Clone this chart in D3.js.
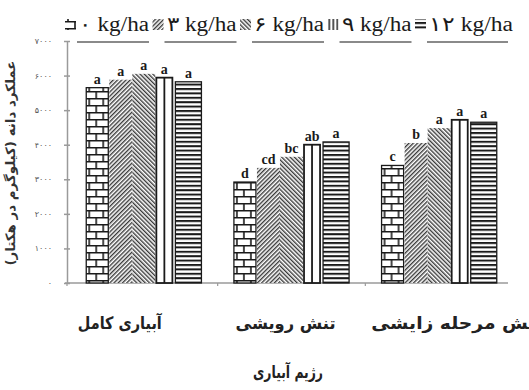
<!DOCTYPE html>
<html>
<head>
<meta charset="utf-8">
<script src="https://cdn.jsdelivr.net/npm/d3@7"></script>
<style>
  body { margin: 0; background: #fff; }
  .axis path, .axis line { stroke: #9a9a9a; stroke-width: 1.5; }
  .axis text { font-family: "DejaVu Sans"; font-size: 8px; fill: #555; }
</style>
</head>
<body>
<div id="chart"></div>
<script>
var width = 529, height = 390;

// data
var categories = ["آبیاری کامل", "تنش رویشی", "تنش مرحله زایشی"];
var series = ["۰ kg/ha", "۳ kg/ha", "۶ kg/ha", "۹ kg/ha", "۱۲ kg/ha"];
var fullIrrigation = [5650, 5880, 6050, 5940, 5820];
var vegetativeStress = [2920, 3330, 3650, 4000, 4080];
var reproductiveStress = [3400, 4050, 4480, 4720, 4650];
var lettersFull = ["a", "a", "a", "a", "a"];
var lettersVeg = ["d", "cd", "bc", "ab", "a"];
var lettersRepro = ["c", "b", "a", "a", "a"];
var yTicks = [0, 1000, 2000, 3000, 4000, 5000, 6000, 7000];
var yTickLabels = ["۰", "۱۰۰۰", "۲۰۰۰", "۳۰۰۰", "۴۰۰۰", "۵۰۰۰", "۶۰۰۰", "۷۰۰۰"];
var yTitle = "عملکرد دانه (کیلوگرم در هکتار)";
var xTitle = "رژیم آبیاری";

var values = [fullIrrigation, vegetativeStress, reproductiveStress];
var letters = [lettersFull, lettersVeg, lettersRepro];

// style per series
var patterns = ["brick", "diagUp", "diagDown", "vert", "horiz"];
var insets = [[0, 1], [0, 0], [0, 0], [1, 6], [-3, 0]];
var labelDx = [-24, -6, 18];
var labelLen = [84, 100, 172];

var svg = d3.select("#chart").append("svg")
  .attr("width", width)
  .attr("height", height);

// patterns
var defs = svg.append("defs");
var p = defs.append("pattern").attr("id", "brick").attr("patternUnits", "userSpaceOnUse")
  .attr("width", 14).attr("height", 14);
p.append("rect").attr("width", 14).attr("height", 14).attr("fill", "#fff");
p.append("path").attr("d", "M0,0.8H14M0,7.8H14M3,0V7.8M10,7.8V14")
  .attr("stroke", "#1a1a1a").attr("stroke-width", 1.6).attr("fill", "none");

p = defs.append("pattern").attr("id", "diagUp").attr("patternUnits", "userSpaceOnUse")
  .attr("width", 3).attr("height", 3).attr("patternTransform", "rotate(45)");
p.append("rect").attr("width", 3).attr("height", 3).attr("fill", "#fff");
p.append("rect").attr("width", 1.4).attr("height", 3).attr("fill", "#3a3a3a");

p = defs.append("pattern").attr("id", "diagDown").attr("patternUnits", "userSpaceOnUse")
  .attr("width", 3).attr("height", 3).attr("patternTransform", "rotate(-45)");
p.append("rect").attr("width", 3).attr("height", 3).attr("fill", "#fff");
p.append("rect").attr("width", 1.4).attr("height", 3).attr("fill", "#3a3a3a");

p = defs.append("pattern").attr("id", "horiz").attr("patternUnits", "userSpaceOnUse")
  .attr("width", 4).attr("height", 4.4);
p.append("rect").attr("width", 4).attr("height", 4.4).attr("fill", "#fff");
p.append("rect").attr("width", 4).attr("height", 2).attr("fill", "#1a1a1a");

p = defs.append("pattern").attr("id", "vert").attr("patternUnits", "userSpaceOnUse")
  .attr("width", 4).attr("height", 4);
p.append("rect").attr("width", 4).attr("height", 4).attr("fill", "#fff");
p.append("rect").attr("x", 1).attr("width", 1.5).attr("height", 4).attr("fill", "#1a1a1a");

// scales
var y = d3.scaleLinear().domain([0, 7000]).range([283, 41]);
var x0 = d3.scaleBand().domain(categories).range([70, 513]).paddingInner(0.22).paddingOuter(0.11);
var x1 = d3.scaleBand().domain(d3.range(series.length)).range([0, x0.bandwidth()]);

// axes
svg.append("g").attr("class", "axis")
  .attr("transform", "translate(67,0)")
  .call(d3.axisLeft(y).tickValues(yTicks).tickFormat(function(d, i) { return yTickLabels[i]; })
    .tickSizeInner(3).tickSizeOuter(0).tickPadding(12))
  .selectAll(".tick line").attr("x2", 3).attr("x1", -3);

svg.append("line").attr("x1", 65).attr("x2", 508).attr("y1", y(0)).attr("y2", y(0))
  .attr("stroke", "#9a9a9a").attr("stroke-width", 1.5);
var bounds = [x0.range()[0] - 3].concat(categories.slice(1).map(function(c) { return x0(c) - x0.step() * x0.paddingInner() / 2; }));
svg.selectAll(".xtick").data(bounds).enter().append("line")
  .attr("x1", function(d) { return d; }).attr("x2", function(d) { return d; })
  .attr("y1", y(0)).attr("y2", y(0) + 3)
  .attr("stroke", "#9a9a9a").attr("stroke-width", 1.2);

// bars
var groups = svg.selectAll(".group").data(categories).enter().append("g")
  .attr("class", "group")
  .attr("transform", function(d) { return "translate(" + x0(d) + ",0)"; });

groups.each(function(cat, ci) {
  var g = d3.select(this);
  var rows = values[ci].map(function(v, i) { return { i: i, v: v, l: letters[ci][i] }; });
  g.selectAll("rect").data(rows).enter().append("rect")
    .attr("x", function(d) { return x1(d.i) + insets[d.i][0]; })
    .attr("width", function(d) { return x1.bandwidth() - insets[d.i][0] - insets[d.i][1]; })
    .attr("y", function(d) { return y(d.v); })
    .attr("height", function(d) { return y(0) - y(d.v); })
    .attr("fill", function(d) { return d.i === 3 ? "#fff" : "url(#" + patterns[d.i] + ")"; })
    .attr("stroke", function(d) { return d.i === 1 || d.i === 2 ? "none" : "#1a1a1a"; })
    .attr("stroke-width", function(d) { return d.i === 3 ? 1.8 : 1.3; });
  // middle line of the vertical-stripe bar
  g.selectAll(".mid").data(rows.filter(function(d) { return d.i === 3; })).enter().append("line")
    .attr("x1", function(d) { return x1(d.i) + insets[3][0] + (x1.bandwidth() - insets[3][0] - insets[3][1]) / 2; })
    .attr("x2", function(d) { return x1(d.i) + insets[3][0] + (x1.bandwidth() - insets[3][0] - insets[3][1]) / 2; })
    .attr("y1", function(d) { return y(d.v); }).attr("y2", y(0))
    .attr("stroke", "#1a1a1a").attr("stroke-width", 1.8);
  g.selectAll(".letter").data(rows).enter().append("text")
    .attr("x", function(d) { return x1(d.i) + x1.bandwidth() / 2 + (insets[d.i][0] - insets[d.i][1]) / 2; })
    .attr("y", function(d) { return y(d.v) - 4; })
    .attr("text-anchor", "middle")
    .style("font-family", "Liberation Serif").style("font-weight", "bold").style("font-size", "14px")
    .attr("fill", "#1a1a1a")
    .text(function(d) { return d.l; });
});

// category labels
svg.selectAll(".cat").data(categories).enter().append("text")
  .attr("x", function(d, i) { return x0(d) + x0.bandwidth() / 2 + labelDx[i]; })
  .attr("y", 329)
  .attr("text-anchor", "middle").attr("direction", "rtl")
  .attr("textLength", function(d, i) { return labelLen[i]; })
  .attr("lengthAdjust", "spacingAndGlyphs")
  .style("font-family", "DejaVu Sans").style("font-size", "17px").style("font-weight", "bold")
  .attr("fill", "#222")
  .text(function(d) { return d; });

svg.append("text").attr("x", 288).attr("y", 378)
  .attr("text-anchor", "middle").attr("direction", "rtl")
  .attr("textLength", 70).attr("lengthAdjust", "spacingAndGlyphs")
  .style("font-family", "DejaVu Sans").style("font-size", "17px").style("font-weight", "bold")
  .attr("fill", "#222").text(xTitle);

svg.append("text")
  .attr("transform", "translate(15,163) rotate(-90)")
  .attr("text-anchor", "middle").attr("direction", "rtl")
  .attr("textLength", 205).attr("lengthAdjust", "spacingAndGlyphs")
  .style("font-family", "DejaVu Sans").style("font-size", "13px").style("font-weight", "bold")
  .attr("fill", "#333").text(yTitle);

// legend
var legend = svg.selectAll(".legend").data(series).enter().append("g")
  .attr("transform", function(d, i) { return "translate(" + (65 + i * 87.5) + ",0)"; });
legend.append("rect").attr("x", 0).attr("y", 19).attr("width", 11).attr("height", 11)
  .attr("fill", function(d, i) { return i === 3 ? "url(#vert)" : "url(#" + patterns[i] + ")"; });
legend.append("text").attr("x", 14).attr("y", 31)
  .attr("textLength", function(d, i) { return i === 4 ? 84 : 70; })
  .attr("lengthAdjust", "spacingAndGlyphs")
  .style("font-family", "Liberation Serif").style("font-size", "20px")
  .attr("fill", "#1a1a1a")
  .text(function(d) { return d; });
legend.append("line").attr("x1", 12).attr("x2", function(d, i) { return i === 4 ? 93 : 84; })
  .attr("y1", 42).attr("y2", 42)
  .attr("stroke", "#8a8a8a").attr("stroke-width", 2);
</script>
</body>
</html>
